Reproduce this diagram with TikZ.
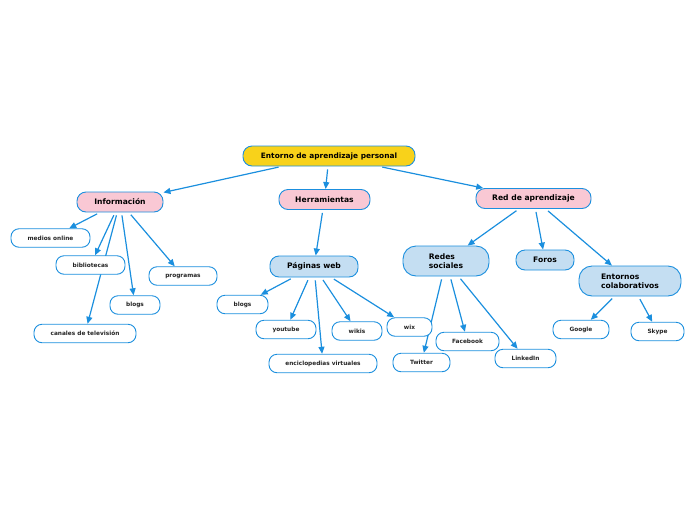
\documentclass[tikz,border=0pt]{standalone}
\usepackage{fontspec}
\setmainfont{DejaVu Sans}
\usepackage{xcolor}
\usetikzlibrary{arrows.meta,backgrounds}

\definecolor{mapblue}{HTML}{1B8FDE}
\definecolor{rootyellow}{HTML}{F8D21A}
\definecolor{toppink}{HTML}{F9C8D4}
\definecolor{subblue}{HTML}{C4DEF2}

\tikzset{
  mainbox/.style={draw=mapblue, line width=0.9pt, rounded corners=9pt, minimum height=20pt,
    inner sep=0pt, font=\fontsize{7.6}{9}\selectfont\bfseries},
  rootbox/.style={mainbox, fill=rootyellow},
  topicbox/.style={mainbox, fill=toppink},
  groupbox/.style={mainbox, fill=subblue},
  leafbox/.style={draw=mapblue, line width=0.9pt, rounded corners=8pt, minimum height=18.5pt,
    inner sep=0pt, fill=white, text=black!85, font=\fontsize{5.8}{7}\selectfont\bfseries},
  link/.style={draw=mapblue, line width=1.2pt, -{Triangle[length=7pt,width=6pt]}, shorten <=3pt}
}

\begin{document}
\begin{tikzpicture}[x=1pt,y=-1pt]
  \useasboundingbox (0,0) rectangle (696,520);

  % nivel principal
  \node[rootbox, minimum width=172pt, font=\fontsize{7.4}{9}\selectfont\bfseries] (root) at (329,156) {Entorno de aprendizaje personal};
  \node[topicbox, minimum width=86pt] (info) at (120,202) {Información};
  \node[topicbox, minimum width=91pt] (herr) at (324.5,199.5) {Herramientas};
  \node[topicbox, minimum width=115pt] (red) at (533.5,198.5) {Red de aprendizaje};

  % Información
  \node[leafbox, minimum width=79pt] (medios) at (50.5,238) {medios online};
  \node[leafbox, minimum width=69pt] (biblio) at (90.5,265) {bibliotecas};
  \node[leafbox, minimum width=68pt] (progr) at (183,276) {programas};
  \node[leafbox, minimum width=50pt] (blogsA) at (135,305) {blogs};
  \node[leafbox, minimum width=102pt] (canales) at (85,333.5) {canales de televisión};

  % Herramientas
  \node[groupbox, minimum width=88pt, minimum height=21pt] (paginas) at (314,266.5) {Páginas web};
  \node[leafbox, minimum width=51pt] (blogsB) at (242.5,304.5) {blogs};
  \node[leafbox, minimum width=60pt] (youtube) at (286,329.5) {youtube};
  \node[leafbox, minimum width=50pt] (wikis) at (357,331) {wikis};
  \node[leafbox, minimum width=45pt] (wix) at (409.5,327) {wix};
  \node[leafbox, minimum width=108pt] (encicl) at (323,363.5) {enciclopedias virtuales};

  % Red de aprendizaje
  \node[groupbox, minimum width=86pt, minimum height=30pt, rounded corners=13pt, align=left] (redes) at (446,261) {Redes\\sociales};
  \node[groupbox, minimum width=58pt] (foros) at (545,260) {Foros};
  \node[groupbox, minimum width=102pt, minimum height=30pt, rounded corners=13pt, align=left] (entornos) at (630,281) {Entornos\\colaborativos};
  \node[leafbox, minimum width=57pt] (twitter) at (421.5,362.5) {Twitter};
  \node[leafbox, minimum width=63pt] (facebook) at (467.5,341.5) {Facebook};
  \node[leafbox, minimum width=61pt] (linkedin) at (525.5,358.5) {LinkedIn};
  \node[leafbox, minimum width=56pt] (google) at (581,329.5) {Google};
  \node[leafbox, minimum width=53pt] (skype) at (657.5,331.5) {Skype};

  \begin{scope}[on background layer]
    \draw[link] (root) -- (info);
    \draw[link] (root) -- (herr);
    \draw[link] (root) -- (red);

    \draw[link] (info) -- (medios);
    \draw[link] (info) -- (biblio);
    \draw[link] (info) -- (canales);
    \draw[link] (info) -- (blogsA);
    \draw[link] (info) -- (progr);

    \draw[link] (herr) -- (paginas);
    \draw[link] (paginas) -- (blogsB);
    \draw[link] (paginas) -- (youtube);
    \draw[link] (paginas) -- (encicl);
    \draw[link] (paginas) -- (wikis);
    \draw[link] (paginas) -- (wix);

    \draw[link] (red) -- (redes);
    \draw[link] (red) -- (foros);
    \draw[link] (red) -- (entornos);
    \draw[link] (redes) -- (twitter);
    \draw[link] (redes) -- (facebook);
    \draw[link] (redes) -- (linkedin);
    \draw[link] (entornos) -- (google);
    \draw[link] (entornos) -- (skype);
  \end{scope}
\end{tikzpicture}
\end{document}
